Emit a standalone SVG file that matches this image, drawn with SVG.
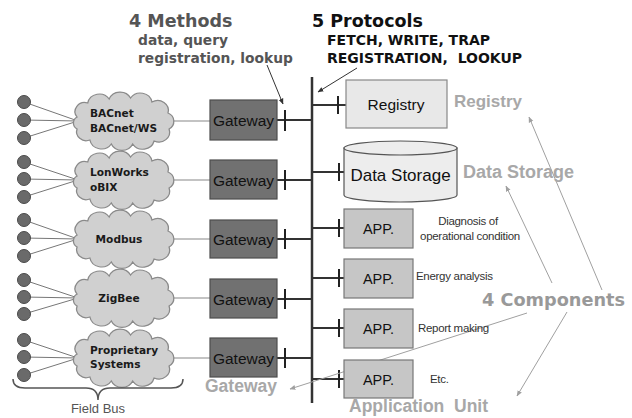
<svg xmlns="http://www.w3.org/2000/svg" width="632" height="418" viewBox="0 0 632 418">
<style>
.gw{fill:#717171;stroke:#4d4d4d;stroke-width:1.2}
.app{fill:#c6c6c6;stroke:#777;stroke-width:1.2}
.reg{fill:#e8e8e8;stroke:#888;stroke-width:1.2}
.cyl{fill:#ededed;stroke:#555;stroke-width:1.2}
.cloud{fill:#d0d0d0;stroke:#8a8a8a;stroke-width:1.2}
.dot{fill:#6a6a6a;stroke:#4a4a4a;stroke-width:1}
.t{font-family:"Liberation Sans",Arial,sans-serif;fill:#111}
.v{font-family:"DejaVu Sans",Verdana,sans-serif;font-weight:bold}
.ct{font-family:"DejaVu Sans",Verdana,sans-serif;font-weight:bold;font-size:10.6px;fill:#1a1a1a}
.gl{font-family:"Liberation Sans",Arial,sans-serif;font-weight:bold;fill:#a8a8a8}
.desc{font-family:"Liberation Sans",Arial,sans-serif;font-size:11.5px;fill:#333;letter-spacing:-0.3px}
.bus{stroke:#333;stroke-width:2.5;fill:none}
.lk{stroke:#333;stroke-width:2;fill:none}
.tick{stroke:#222;stroke-width:2}
.fl{stroke:#777;stroke-width:1;fill:none}
.cg{stroke:#888;stroke-width:1.2;fill:none}
.ar{stroke:#333;stroke-width:1;fill:none;marker-end:url(#ahB)}
.ag{stroke:#a0a0a0;stroke-width:1;fill:none;marker-end:url(#ahG)}
</style>
<defs>
<marker id="ahB" viewBox="0 0 10 10" refX="9" refY="5" markerWidth="6" markerHeight="6" orient="auto"><path d="M0,1 L10,5 L0,9 Z" fill="#333"/></marker>
<marker id="ahG" viewBox="0 0 10 10" refX="9" refY="5" markerWidth="6" markerHeight="6" orient="auto"><path d="M0,1 L10,5 L0,9 Z" fill="#a0a0a0"/></marker>
<path id="cl" d="M -42,-4 A 9 9 0 0 1 -32,-18 A 11 11 0 0 1 -12,-22 A 11 11 0 0 1 8,-23 A 11 11 0 0 1 28,-19 A 10 10 0 0 1 43,-8 A 9 9 0 0 1 44,8 A 10 10 0 0 1 30,20 A 11 11 0 0 1 10,23 A 11 11 0 0 1 -10,23 A 11 11 0 0 1 -30,19 A 9 9 0 0 1 -42,8 A 7 7 0 0 1 -42,-4 Z"/>
</defs>
<rect width="632" height="418" fill="#fff"/>

<!-- titles -->
<g id="title-methods">
<text class="v" x="129" y="27" font-size="17.5" fill="#555">4 Methods</text>
<text class="v" x="138" y="45" font-size="13.8" fill="#555">data, query</text>
<text class="v" x="138" y="63" font-size="13.8" fill="#555">registration, lookup</text>
</g>
<g id="title-protocols">
<text class="v" x="312" y="27" font-size="17.5" fill="#111">5 Protocols</text>
<text class="v" x="327" y="45" font-size="14" fill="#111">FETCH, WRITE, TRAP</text>
<text class="v" x="327" y="63" font-size="14" fill="#111" xml:space="preserve">REGISTRATION,  LOOKUP</text>
</g>

<!-- connectors -->
<g id="connectors">
<path class="fl" d="M24,102 L78,121 M24,120 L78,121 M24,138 L78,121"/>
<path class="fl" d="M24,162 L78,180 M24,179 L78,180 M24,197 L78,180"/>
<path class="fl" d="M24,220 L78,239 M24,238 L78,239 M24,256 L78,239"/>
<path class="fl" d="M24,280 L78,298 M24,297 L78,298 M24,314 L78,298"/>
<path class="fl" d="M24,340 L78,358 M24,357 L78,358 M24,375 L78,358"/>
<path class="cg" d="M168,121 L210,121 M168,180 L210,180 M168,239 L210,239 M168,298 L210,298 M168,358 L210,358"/>
<path class="bus" d="M312,77 L312,403"/>
<path class="lk" d="M277,120 L312,120 M277,180 L312,180 M277,239 L312,239 M277,299 L312,299 M277,358 L312,358"/>
<path class="tick" d="M285,110 L285,131 M285,170 L285,190 M285,229 L285,249 M285,289 L285,309 M285,348 L285,368"/>
<path class="lk" d="M312,105 L346,105 M312,172 L344,172 M312,228 L344,228 M312,278 L344,278 M312,328 L344,328 M312,379 L344,379"/>
<path class="tick" d="M338,96 L338,114 M339,163 L339,181 M339,219 L339,237 M339,269 L339,287 M339,319 L339,337 M339,370 L339,388"/>
<path class="ar" d="M267,65 L283,104"/>
<path class="ar" d="M357,68 L318,92"/>
<path class="ag" d="M602,290 L529,117"/>
<path class="ag" d="M552,283 L506,186"/>
<path class="ag" d="M567,312 L517,396"/>
<path class="ag" d="M527,313 L290,389"/>
</g>

<!-- field devices -->
<g id="devices">
<circle class="dot" cx="24" cy="102" r="6.5"/><circle class="dot" cx="24" cy="120" r="6.5"/><circle class="dot" cx="24" cy="138" r="6.5"/>
<circle class="dot" cx="24" cy="162" r="6.5"/><circle class="dot" cx="24" cy="179" r="6.5"/><circle class="dot" cx="24" cy="197" r="6.5"/>
<circle class="dot" cx="24" cy="220" r="6.5"/><circle class="dot" cx="24" cy="238" r="6.5"/><circle class="dot" cx="24" cy="256" r="6.5"/>
<circle class="dot" cx="24" cy="280" r="6.5"/><circle class="dot" cx="24" cy="297" r="6.5"/><circle class="dot" cx="24" cy="314" r="6.5"/>
<circle class="dot" cx="24" cy="340" r="6.5"/><circle class="dot" cx="24" cy="357" r="6.5"/><circle class="dot" cx="24" cy="375" r="6.5"/>
</g>

<!-- clouds -->
<g id="cloud-bacnet">
<use href="#cl" class="cloud" transform="translate(122,121) scale(1.07,1)"/>
<text class="ct" x="90" y="117">BACnet</text>
<text class="ct" x="90" y="132">BACnet/WS</text>
</g>
<g id="cloud-lonworks">
<use href="#cl" class="cloud" transform="translate(122,180) scale(1.07,1)"/>
<text class="ct" x="90" y="176">LonWorks</text>
<text class="ct" x="90" y="191">oBIX</text>
</g>
<g id="cloud-modbus">
<use href="#cl" class="cloud" transform="translate(122,239) scale(1.07,1)"/>
<text class="ct" x="119" y="243" text-anchor="middle">Modbus</text>
</g>
<g id="cloud-zigbee">
<use href="#cl" class="cloud" transform="translate(122,298) scale(1.07,1)"/>
<text class="ct" x="119" y="302" text-anchor="middle">ZigBee</text>
</g>
<g id="cloud-proprietary">
<use href="#cl" class="cloud" transform="translate(122,358) scale(1.07,1)"/>
<text class="ct" x="90" y="354">Proprietary</text>
<text class="ct" x="90" y="368">Systems</text>
</g>

<!-- gateways -->
<g id="gateway-1"><rect class="gw" x="210" y="100" width="67" height="40"/><text class="t" x="243.5" y="126" font-size="15.5" text-anchor="middle">Gateway</text></g>
<g id="gateway-2"><rect class="gw" x="210" y="160" width="67" height="39"/><text class="t" x="243.5" y="185.5" font-size="15.5" text-anchor="middle">Gateway</text></g>
<g id="gateway-3"><rect class="gw" x="210" y="220" width="67" height="38"/><text class="t" x="243.5" y="245" font-size="15.5" text-anchor="middle">Gateway</text></g>
<g id="gateway-4"><rect class="gw" x="210" y="279" width="67" height="39"/><text class="t" x="243.5" y="304.5" font-size="15.5" text-anchor="middle">Gateway</text></g>
<g id="gateway-5"><rect class="gw" x="210" y="338" width="67" height="39"/><text class="t" x="243.5" y="363.5" font-size="15.5" text-anchor="middle">Gateway</text></g>

<!-- components -->
<g id="registry"><rect class="reg" x="346" y="80" width="101" height="48"/><text class="t" x="396" y="110" font-size="15.5" text-anchor="middle">Registry</text></g>
<g id="data-storage">
<path class="cyl" d="M344,148 L344,195 A56.5,7 0 0 0 457,195 L457,148 Z"/>
<ellipse class="cyl" cx="400.5" cy="148" rx="56.5" ry="7"/>
<text class="t" x="400.5" y="181" font-size="17" text-anchor="middle">Data Storage</text>
</g>
<g id="app-1"><rect class="app" x="344" y="209" width="69" height="39"/><text class="t" x="378.5" y="234" font-size="14.5" text-anchor="middle">APP.</text></g>
<g id="app-2"><rect class="app" x="344" y="259" width="69" height="39"/><text class="t" x="378.5" y="284" font-size="14.5" text-anchor="middle">APP.</text></g>
<g id="app-3"><rect class="app" x="344" y="309" width="69" height="39"/><text class="t" x="378.5" y="334" font-size="14.5" text-anchor="middle">APP.</text></g>
<g id="app-4"><rect class="app" x="344" y="360" width="69" height="38"/><text class="t" x="378.5" y="385" font-size="14.5" text-anchor="middle">APP.</text></g>

<!-- app descriptions -->
<g id="app-descriptions">
<text class="desc" x="468" y="225" text-anchor="middle">Diagnosis of</text>
<text class="desc" x="470" y="240" text-anchor="middle">operational condition</text>
<text class="desc" x="416" y="280">Energy analysis</text>
<text class="desc" x="418" y="332">Report making</text>
<text class="desc" x="430" y="383">Etc.</text>
</g>

<!-- component labels -->
<g id="labels">
<text class="gl" x="454" y="107" font-size="17">Registry</text>
<text class="gl" x="463" y="178" font-size="18">Data Storage</text>
<text class="gl" x="349" y="412" font-size="17.5" xml:space="preserve">Application  Unit</text>
<text class="gl" x="205" y="392" font-size="17.5">Gateway</text>
<text class="v" x="482" y="306" font-size="17.7" fill="#999">4 Components</text>
</g>

<!-- field bus brace -->
<g id="field-bus">
<path d="M13,379 Q13,388 25,388 L86,388 Q98,388 98,400 Q98,388 110,388 L171,388 Q183,388 183,379" fill="none" stroke="#555" stroke-width="1.5"/>
<text x="98" y="413" font-family="'Liberation Sans',Arial,sans-serif" font-size="13" fill="#555" text-anchor="middle">Field Bus</text>
</g>
</svg>
